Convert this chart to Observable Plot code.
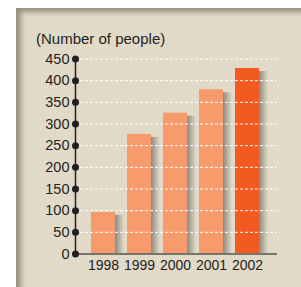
<!DOCTYPE html>
<html>
<head>
<meta charset="utf-8">
<script src="https://cdn.jsdelivr.net/npm/d3@7"></script>
<script src="https://cdn.jsdelivr.net/npm/@observablehq/plot@0.6"></script>
<style>
  html, body { margin: 0; padding: 0; background: #ffffff; width: 301px; height: 287px; overflow: hidden; }
  #panel {
    position: absolute; left: 16px; top: 8px; right: 0; bottom: 0;
    background: #e1dac9;
    box-shadow: inset 7px 6px 5px -2px rgba(100, 96, 82, 0.6);
  }
  #title {
    position: absolute; left: 36px; top: 31px;
    font: 15px "Liberation Sans", Arial, sans-serif; line-height: 15px;
    color: #231f20; white-space: nowrap;
  }
  #chart { position: absolute; left: 0; top: 0; }
</style>
</head>
<body>
<div id="panel"></div>
<div id="title"></div>
<div id="chart"></div>
<script>
const titleText = "(Number of people)";
const years = ["1998", "1999", "2000", "2001", "2002"];
const values = [96, 276, 325, 379, 428];
const yTicks = [0, 50, 100, 150, 200, 250, 300, 350, 400, 450];
const highlightYear = "2002";

const data = years.map((year, i) => ({year, value: values[i]}));

document.getElementById("title").textContent = titleText;

const chart = Plot.plot({
  width: 301,
  height: 287,
  marginLeft: 75,
  marginRight: 24,
  marginTop: 58.5,
  marginBottom: 33.5,
  style: {background: "transparent", fontFamily: "'Liberation Sans', Arial, sans-serif", color: "#231f20"},
  x: {domain: years, range: [75, 275], paddingInner: 1/3, paddingOuter: 0.444, round: false},
  y: {domain: [0, 450]},
  marks: [
    Plot.barY(data, {x: "year", y: "value", dx: 24, insetRight: 15, insetTop: 3, fill: "url(#shade)"}),
    Plot.barY(data, {x: "year", y: "value", fill: d => d.year === highlightYear ? "#f25a22" : "#f79b6c"}),
    Plot.gridY(yTicks.filter(d => d > 0), {stroke: "#ffffff", strokeOpacity: 1, strokeWidth: 1, strokeDasharray: "3,2", insetLeft: 5}),
    Plot.ruleY([0], {stroke: "#77746b", strokeWidth: 2}),
    Plot.frame({anchor: "left", stroke: "#231f20", strokeWidth: 1.5}),
    Plot.dot(yTicks, {y: d => d, frameAnchor: "left", r: 3.5, fill: "#231f20", stroke: null}),
    Plot.axisY({ticks: yTicks, tickSize: 0, tickPadding: 6, fontSize: 14.5, label: null, fill: "#231f20"}),
    Plot.axisX({tickSize: 0, tickPadding: 6, fontSize: 14, label: null, fill: "#231f20", letterSpacing: -0.5})
  ]
});

const defs = d3.select(chart).insert("defs", ":first-child");
const grad = defs.append("linearGradient").attr("id", "shade").attr("x1", 0).attr("x2", 1).attr("y1", 0).attr("y2", 0);
grad.append("stop").attr("offset", "0%").attr("stop-color", "#8c897e");
grad.append("stop").attr("offset", "55%").attr("stop-color", "#bcb6a7");
grad.append("stop").attr("offset", "100%").attr("stop-color", "#e1dac9");

document.getElementById("chart").appendChild(chart);
</script>
</body>
</html>
